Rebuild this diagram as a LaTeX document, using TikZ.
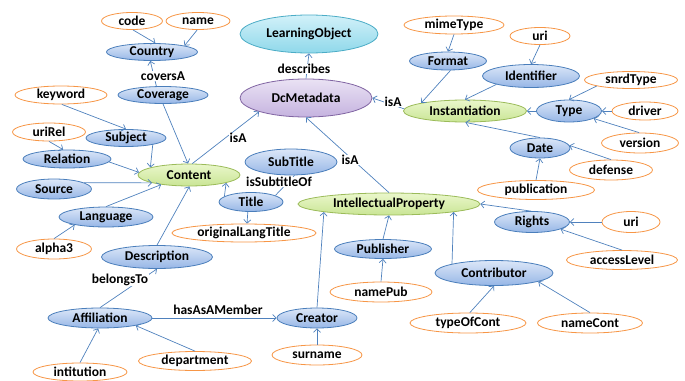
\documentclass[tikz,border=0pt]{standalone}
\usepackage{fontspec}
\setmainfont{Carlito}
\usetikzlibrary{shapes.geometric,arrows.meta}

\definecolor{linkblue}{HTML}{4F81BD}
\definecolor{clsline}{HTML}{4A7EBB}
\definecolor{clstop}{HTML}{DCE7F8}
\definecolor{clsbot}{HTML}{96B6E6}
\definecolor{attrline}{HTML}{F79646}
\definecolor{keyline}{HTML}{9BBB59}
\definecolor{keytop}{HTML}{EAF7CB}
\definecolor{keybot}{HTML}{C9E595}
\definecolor{metaline}{HTML}{8064A2}
\definecolor{metatop}{HTML}{EAE2F4}
\definecolor{metabot}{HTML}{C5B3DF}
\definecolor{objline}{HTML}{4BACC6}
\definecolor{objtop}{HTML}{D2F1F9}
\definecolor{objbot}{HTML}{8FD8EA}

\tikzset{
  oval/.style={ellipse, inner xsep=0pt, inner ysep=-1pt, line width=0.8pt, font=\fontsize{13.5}{15}\selectfont\bfseries},
  cls/.style={oval, draw=clsline, top color=clstop, bottom color=clsbot},
  attr/.style={oval, draw=attrline, fill=white},
  key/.style={oval, draw=keyline, top color=keytop, bottom color=keybot},
  meta/.style={oval, draw=metaline, top color=metatop, bottom color=metabot},
  obj/.style={oval, draw=objline, top color=objtop, bottom color=objbot},
  sz/.style 2 args={minimum width=#1, minimum height=#2},
  link/.style={draw=linkblue, line width=0.7pt, -{Straight Barb[length=3.5pt,width=7pt]}},
  plainlink/.style={draw=linkblue, line width=0.7pt},
  rel/.style={font=\fontsize{13.5}{15}\selectfont\bfseries, fill=white, inner sep=0.5pt},
}

\begin{document}
\begin{tikzpicture}[x=1pt,y=-1pt]
\useasboundingbox (0,0) rectangle (685,380);

% ---- central concepts ----
\node[obj,  sz={138}{38}] (lo)      at (309,34)  {LearningObject};
\node[meta, sz={132}{38}] (dcm)     at (306,98)  {DcMetadata};
\node[key,  sz={102}{22}] (content) at (189,175) {Content};
\node[key,  sz={182}{22}] (ip)      at (389,204) {IntellectualProperty};
\node[key,  sz={123}{22}] (inst)    at (465,111) {Instantiation};

% ---- content branch ----
\node[attr, sz={61}{17}]  (code)     at (132,21)  {code};
\node[attr, sz={64}{17}]  (name)     at (198,21)  {name};
\node[cls,  sz={91}{17}]  (country)  at (152,52)  {Country};
\node[cls,  sz={90}{17}]  (coverage) at (163,95)  {Coverage};
\node[attr, sz={92}{18}]  (keyword)  at (61,95)   {keyword};
\node[cls,  sz={80}{17}]  (subject)  at (126,138) {Subject};
\node[attr, sz={73}{18}]  (urirel)   at (49,132)  {uriRel};
\node[cls,  sz={88}{18}]  (relation) at (67,159)  {Relation};
\node[cls,  sz={75}{20}]  (source)   at (54,189)  {Source};
\node[cls,  sz={94}{20}]  (language) at (106,217) {Language};
\node[attr, sz={75}{20}]  (alpha)    at (54,249)  {alpha3};
\node[cls,  sz={111}{23}] (descr)    at (157,257) {Description};
\node[cls,  sz={104}{20}] (affil)    at (100,318) {Affiliation};
\node[attr, sz={94}{18}]  (institut) at (80,372)  {intitution};
\node[attr, sz={113}{19}] (dept)     at (195,361) {department};
\node[cls,  sz={64}{19}]  (title)    at (251,202) {Title};
\node[cls,  sz={92}{26}]  (subtitle) at (291,162) {SubTitle};
\node[attr, sz={144}{18}] (origtitle) at (244,233) {originalLangTitle};

% ---- intellectual property branch ----
\node[cls,  sz={80}{20}]  (creator)  at (317,318) {Creator};
\node[attr, sz={90}{20}]  (surname)  at (317,355) {surname};
\node[cls,  sz={97}{19}]  (publisher) at (383,249) {Publisher};
\node[attr, sz={102}{20}] (namepub)  at (381,292) {namePub};
\node[cls,  sz={118}{25}] (contrib)  at (494,273) {Contributor};
\node[attr, sz={116}{20}] (typecont) at (468,323) {typeOfCont};
\node[attr, sz={105}{20}] (namecont) at (590,323) {nameCont};
\node[cls,  sz={75}{21}]  (rights)   at (532,222) {Rights};
\node[attr, sz={58}{21}]  (urirights) at (631,222) {uri};
\node[attr, sz={111}{19}] (access)   at (622,260) {accessLevel};

% ---- instantiation branch ----
\node[attr, sz={100}{18}] (mime)     at (454,25)  {mimeType};
\node[cls,  sz={77}{18}]  (format)   at (448,61)  {Format};
\node[attr, sz={60}{17}]  (uriid)    at (540,36)  {uri};
\node[cls,  sz={97}{23}]  (ident)    at (531,76)  {Identifier};
\node[cls,  sz={65}{22}]  (type)     at (569,111) {Type};
\node[attr, sz={93}{17}]  (snrd)     at (631,80)  {snrdType};
\node[attr, sz={66}{18}]  (driver)   at (645,111) {driver};
\node[attr, sz={77}{20}]  (version)  at (640,143) {version};
\node[cls,  sz={60}{20}]  (date)     at (540,148) {Date};
\node[attr, sz={83}{20}]  (defense)  at (611,170) {defense};
\node[attr, sz={117}{19}] (pubdate)  at (536,190) {publication};

% ---- connectors ----
\draw[link] (code.-84) -- (country.69);
\draw[link] (name.-95) -- (country.north east);
\draw[link] (coverage.127) -- (country.-101);
\draw[link] (coverage.south) -- (content.95);
\draw[link] (keyword.-85) -- (subject.north);
\draw[link] (subject.-14) -- (content.169);
\draw[link] (urirel.south) -- (relation.112);
\draw[link] (relation.-4) -- (content.177);
\draw[link] (source.12) -- (content.192);
\draw[link] (language.north) -- (content.199);
\draw[link] (alpha.north) -- (language.194);
\draw[link] (descr.north) -- (content.-88);
\draw[link] (affil.north) -- (descr.south);
\draw[link] (affil.east) -- (creator.west);
\draw[link] (institut.north) -- (affil.-100);
\draw[link] (dept.north) -- (affil.-12);
\draw[link] (title.168) -- (content.-12);
\draw[link] (title.-108) -- (origtitle.72);
\draw[plainlink] (title.15) -- (subtitle.-75);
\draw[link] (content.74) -- (dcm.south west);

\draw[link] (surname.north) -- (creator.south);
\draw[link] (creator.north) -- (ip.187);
\draw[link] (namepub.north) -- (publisher.south);
\draw[link] (publisher.north) -- (ip.south);
\draw[link] (contrib.north west) -- (ip.south east);
\draw[link] (typecont.80) -- (contrib.south);
\draw[link] (namecont.north) -- (contrib.-11);
\draw[link] (rights.95) -- (ip.east);
\draw[link] (urirights.west) -- (rights.east);
\draw[link] (access.north) -- (rights.-14);
\draw[link] (ip.north) -- (dcm.south);

\draw[link] (mime.south) -- (format.north);
\draw[link] (format.-75) -- (inst.north west);
\draw[link] (uriid.south) -- (ident.north);
\draw[link] (ident.south west) -- (inst.north);
\draw[link] (snrd.190) -- (type.north);
\draw[link] (driver.west) -- (type.east);
\draw[link] (version.95) -- (type.-17);
\draw[link] (type.west) -- (inst.east);
\draw[link] (pubdate.north) -- (date.south);
\draw[link] (defense.north) -- (date.5);
\draw[link] (date.north) -- (inst.-88);
\draw[link] (inst.178) -- (dcm.east);
\draw[link] (dcm.north) -- (lo.south);

% ---- relation names ----
\node[rel] (lcovers)  at (163,76)  {coversA};
\node[rel] (ldescr)   at (304,69)  {describes};
\node[rel] (lisainst) at (393,102) {isA};
\node[rel] (lisacont) at (238,138) {isA};
\node[rel] (lisaip)   at (350,160) {isA};
\node[rel] (lsubof)   at (279,182) {isSubtitleOf};
\node[rel] (lbelongs) at (120,280) {belongsTo};
\node[rel, fill=none] (lmember) at (218,310) {hasAsAMember};
\end{tikzpicture}
\end{document}
